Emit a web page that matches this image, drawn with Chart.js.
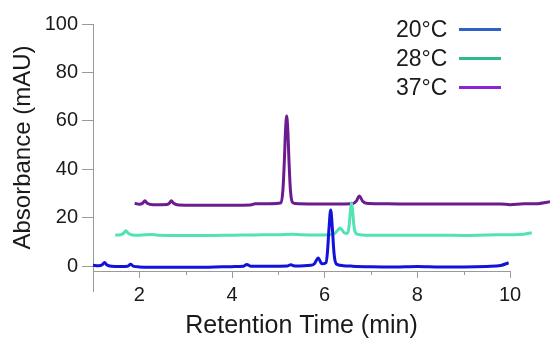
<!DOCTYPE html>
<html>
<head>
<meta charset="utf-8">
<script src="https://cdn.jsdelivr.net/npm/chart.js@4/dist/chart.umd.min.js"></script>
<style>
  html, body { margin: 0; padding: 0; background: #ffffff; }
  #wrap { width: 550px; height: 341px; }
</style>
</head>
<body>
<div id="wrap"><canvas id="c" width="550" height="341"></canvas></div>
<script>
// ---- data ----
const seriesNames = ["20°C", "28°C", "37°C"];

const time20 = [1.0, 1.12, 1.2, 1.25, 1.3, 1.4, 1.6, 1.75, 1.81, 1.87, 2.0, 2.5, 3.0, 3.5, 4.0, 4.25, 4.32, 4.4, 4.8, 5.2, 5.27, 5.35, 5.7, 5.78, 5.86, 5.94, 6.03, 6.06, 6.095, 6.13, 6.165, 6.2, 6.23, 6.28, 6.4, 6.6, 7.0, 7.5, 8.0, 8.5, 9.0, 9.5, 9.8, 9.97];
const abs20  = [0.4, 0.2, 0.6, 1.5, 0.5, 0.0, -0.1, 0.0, 0.8, 0.0, -0.3, -0.5, -0.4, -0.4, -0.2, 0.0, 0.7, 0.0, 0.0, 0.1, 0.6, 0.1, 0.4, 1.0, 3.4, 1.0, 1.5, 5.8, 16.0, 23.2, 16.0, 5.8, 1.8, 0.6, 0.2, 0.0, -0.2, -0.3, -0.1, -0.3, -0.3, -0.1, 0.3, 1.4];

const time28 = [1.48, 1.6, 1.66, 1.71, 1.76, 1.85, 2.0, 2.27, 2.4, 3.0, 3.5, 4.0, 4.5, 5.0, 5.3, 5.5, 5.8, 6.1, 6.22, 6.28, 6.33, 6.38, 6.44, 6.5, 6.53, 6.555, 6.58, 6.605, 6.63, 6.66, 6.72, 6.8, 7.0, 7.5, 8.0, 8.5, 9.0, 9.5, 10.0, 10.3, 10.47];
const abs28  = [12.8, 13.0, 13.6, 14.6, 13.6, 12.9, 12.8, 13.1, 12.8, 12.7, 12.7, 12.8, 12.9, 13.0, 13.2, 13.0, 12.9, 13.0, 13.6, 14.8, 15.8, 14.8, 13.6, 13.6, 17.0, 22.5, 26.2, 22.5, 17.0, 14.0, 13.1, 12.9, 12.8, 12.8, 12.8, 12.8, 12.7, 12.9, 13.0, 13.2, 13.8];

const time37 = [1.9, 2.0, 2.07, 2.12, 2.17, 2.3, 2.6, 2.65, 2.69, 2.74, 2.85, 3.2, 3.6, 4.0, 4.4, 4.5, 4.8, 5.06, 5.10, 5.13, 5.155, 5.18, 5.205, 5.23, 5.26, 5.30, 5.36, 5.8, 6.2, 6.6, 6.68, 6.75, 6.82, 6.9, 7.2, 7.6, 8.0, 8.5, 9.0, 9.5, 9.8, 10.0, 10.3, 10.6, 10.8, 10.9];
const abs37  = [26.0, 25.6, 26.0, 27.0, 26.0, 25.4, 25.5, 26.0, 27.0, 26.0, 25.3, 25.2, 25.2, 25.2, 25.3, 25.8, 25.8, 26.2, 31.7, 43.5, 56.0, 62.0, 56.0, 43.5, 31.7, 26.5, 25.9, 25.7, 25.7, 25.8, 26.8, 29.0, 26.8, 26.0, 25.8, 25.7, 25.7, 25.7, 25.7, 25.7, 25.7, 25.4, 25.8, 25.8, 26.4, 26.7];

const xRange = [1, 10];
const yRange = [-2, 100];
const xMajorTicks = [2, 4, 6, 8, 10];
const xMinorTicks = [3, 5, 7, 9];
const yTicks = [0, 20, 40, 60, 80, 100];

const lineColors   = ["#1212dc", "#52e2b6", "#6c1c8e"];
const legendColors = ["#2c62c8", "#2db88f", "#8a24d4"];

const FONT = "'Liberation Sans', Arial, sans-serif";
const AXIS_GRAY = "#9a9a9a";

function pts(t, v) { return t.map((x, i) => ({ x: x, y: v[i] })); }

const datasets = [
  { label: seriesNames[0], data: pts(time20, abs20) },
  { label: seriesNames[1], data: pts(time28, abs28) },
  { label: seriesNames[2], data: pts(time37, abs37) }
].map((d, i) => Object.assign(d, {
  borderColor: lineColors[i],
  borderWidth: 3,
  pointRadius: 0,
  fill: false,
  clip: false,
  cubicInterpolationMode: 'monotone'
}));

// decorations: minor x ticks, y-axis extension below x axis, legend
const decor = {
  id: 'decor',
  afterDraw(chart) {
    const ctx = chart.ctx;
    const xs = chart.scales.x;
    const area = chart.chartArea;
    ctx.save();
    ctx.strokeStyle = AXIS_GRAY;
    ctx.lineWidth = 1;
    ctx.beginPath();
    xMinorTicks.forEach(v => {
      const px = Math.round(xs.getPixelForValue(v)) + 0.5;
      ctx.moveTo(px, area.bottom);
      ctx.lineTo(px, area.bottom + 4);
    });
    const lx = Math.round(area.left) + 0.5;
    ctx.moveTo(lx, area.bottom);
    ctx.lineTo(lx, area.bottom + 21);
    ctx.stroke();

    // legend: text then line sample
    ctx.font = "23px " + FONT;
    ctx.textBaseline = 'middle';
    ctx.textAlign = 'left';
    seriesNames.forEach((name, i) => {
      const cy = 31 + i * 29;
      ctx.fillStyle = '#1a1a1a';
      ctx.fillText(name, 396, cy);
      ctx.strokeStyle = legendColors[i];
      ctx.lineWidth = 3;
      ctx.beginPath();
      ctx.moveTo(459, cy - 1.5);
      ctx.lineTo(501, cy - 1.5);
      ctx.stroke();
    });
    ctx.restore();
  }
};

new Chart(document.getElementById('c'), {
  type: 'line',
  data: { datasets },
  options: {
    responsive: false,
    animation: false,
    layout: { padding: { top: 24, right: 40, left: 0, bottom: 0 } },
    plugins: { legend: { display: false }, tooltip: { enabled: false } },
    scales: {
      x: {
        type: 'linear',
        bounds: 'data',
        afterDataLimits: s => { s.min = xRange[0]; s.max = xRange[1]; },
        afterBuildTicks: s => { s.min = xRange[0]; s.max = xRange[1]; s.ticks = xMajorTicks.map(v => ({ value: v })); },
        afterFit: s => { s.height = 70; },
        grid: { drawOnChartArea: false, tickLength: 7, tickColor: AXIS_GRAY },
        border: { color: AXIS_GRAY, width: 1 },
        ticks: { color: '#1a1a1a', font: { family: FONT, size: 20 }, padding: 5, maxRotation: 0 },
        title: { display: true, text: 'Retention Time (min)', color: '#1a1a1a',
                 font: { family: FONT, size: 25, lineHeight: 1 }, padding: { top: 0, bottom: 2 } }
      },
      y: {
        type: 'linear',
        min: yRange[0], max: yRange[1],
        afterBuildTicks: s => { s.ticks = yTicks.map(v => ({ value: v })); },
        afterFit: s => { s.width = 93; },
        grid: { drawOnChartArea: false, tickLength: 11, tickColor: AXIS_GRAY },
        border: { color: AXIS_GRAY, width: 1 },
        ticks: { color: '#1a1a1a', font: { family: FONT, size: 20 }, padding: 4 },
        title: { display: true, text: 'Absorbance (mAU)', color: '#1a1a1a',
                 font: { family: FONT, size: 24, lineHeight: 1 }, padding: { top: 11, bottom: 0 } }
      }
    }
  },
  plugins: [decor]
});
</script>
</body>
</html>
